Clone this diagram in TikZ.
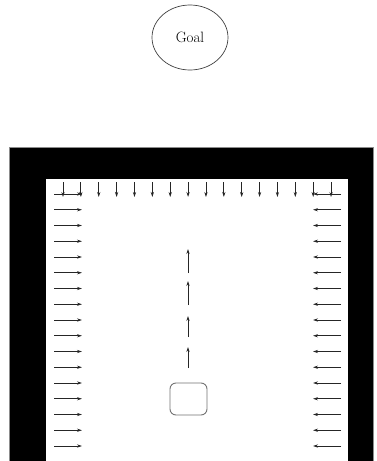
\documentclass[tikz,border=0pt]{standalone}
\usetikzlibrary{arrows.meta,shapes.geometric}

\begin{document}
\begin{tikzpicture}[
  x=1pt, y=-1pt,
  >={Stealth[length=5pt,width=3.2pt]},
  field/.style={->, draw=black!85, line width=0.75pt},
  wall/.style={fill=black, draw=black!45, line width=0.6pt},
  goal/.style={ellipse, draw=black!75, line width=0.7pt, minimum width=76pt,
    minimum height=65pt, inner sep=0pt, font=\fontsize{15}{17}\selectfont},
  robot/.style={draw=black!55, line width=0.9pt, rounded corners=6pt,
    minimum width=37pt, minimum height=32pt, inner sep=0pt}
]
\useasboundingbox (0,0) rectangle (376,461);

% Goal.
\node[goal] (goalnode) at (190,37.5) {Goal};

% Walls.
\draw[wall] (9.5,147) rectangle (373,461);
\fill[white] (46,179) rectangle (348,461);

% Repulsion from the top wall.
\foreach \i in {0,...,15}
  \draw[field] ({63+17.87*\i},182) -- ({63+17.87*\i},197);

% Repulsion from the side walls.
\foreach \i in {0,...,16} {
  \draw[field] (54,{194+15.75*\i}) -- (82,{194+15.75*\i});
  \draw[field] (341,{194+15.75*\i}) -- (313,{194+15.75*\i});
}

% Robot and its path.
\node[robot] (robot) at (188.5,399) {};
\draw[field] (188,368) -- (188,347);
\draw[field] (188,337) -- (188,316);
\draw[field] (188,305) -- (188,281);
\draw[field] (188,273) -- (188,249);

\end{tikzpicture}
\end{document}
